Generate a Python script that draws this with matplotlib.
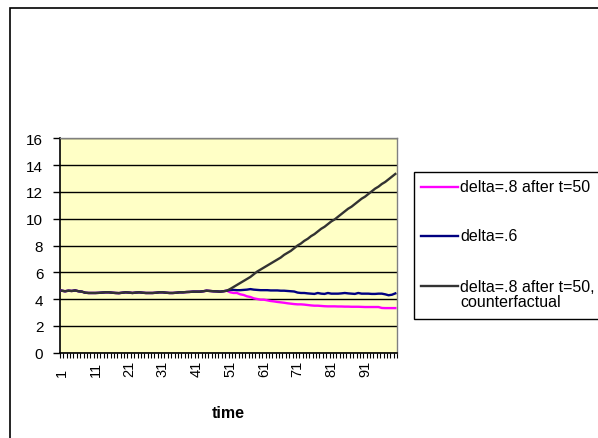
import matplotlib
matplotlib.use("Agg")
import matplotlib.pyplot as plt
from matplotlib.patches import Rectangle
from matplotlib.lines import Line2D
from matplotlib import transforms
import numpy as np

plt.rcParams['font.family'] = ['Liberation Sans', 'DejaVu Sans']

time = list(range(1, 101))

# shared path before the switch at t=50
pre_switch = [4.62, 4.58, 4.62, 4.60, 4.64, 4.58, 4.55, 4.47, 4.45, 4.45,
              4.45, 4.46, 4.48, 4.50, 4.50, 4.47, 4.45, 4.44, 4.47, 4.50,
              4.48, 4.45, 4.48, 4.50, 4.47, 4.45, 4.45, 4.45, 4.47, 4.50,
              4.50, 4.47, 4.45, 4.45, 4.47, 4.50, 4.50, 4.52, 4.53, 4.55,
              4.55, 4.55, 4.58, 4.62, 4.60, 4.58, 4.57, 4.55, 4.58, 4.62]

delta8_after50 = pre_switch + [
    4.50, 4.45, 4.45, 4.35, 4.30, 4.20, 4.15, 4.05, 4.00, 3.95,
    3.95, 3.90, 3.85, 3.82, 3.78, 3.75, 3.72, 3.68, 3.65, 3.62,
    3.60, 3.60, 3.58, 3.55, 3.52, 3.50, 3.50, 3.48, 3.46, 3.45,
    3.45, 3.45, 3.44, 3.44, 3.43, 3.43, 3.42, 3.42, 3.42, 3.41,
    3.40, 3.40, 3.40, 3.40, 3.40, 3.33, 3.32, 3.32, 3.32, 3.32]

delta6 = pre_switch + [
    4.68, 4.68, 4.66, 4.66, 4.68, 4.70, 4.74, 4.70, 4.68, 4.66,
    4.66, 4.66, 4.64, 4.64, 4.64, 4.62, 4.62, 4.60, 4.58, 4.56,
    4.48, 4.45, 4.45, 4.42, 4.40, 4.38, 4.45, 4.40, 4.38, 4.45,
    4.40, 4.40, 4.40, 4.42, 4.45, 4.42, 4.40, 4.38, 4.45, 4.40,
    4.40, 4.40, 4.38, 4.38, 4.40, 4.40, 4.35, 4.28, 4.32, 4.42]

delta8_counterfactual = pre_switch + [
    4.75, 4.90, 5.05, 5.20, 5.35, 5.50, 5.65, 5.85, 6.05, 6.20,
    6.35, 6.50, 6.65, 6.80, 6.95, 7.10, 7.30, 7.45, 7.60, 7.80,
    8.00, 8.15, 8.35, 8.50, 8.70, 8.85, 9.05, 9.25, 9.40, 9.60,
    9.80, 9.95, 10.15, 10.35, 10.55, 10.75, 10.90, 11.10, 11.30, 11.50,
    11.65, 11.85, 12.05, 12.25, 12.40, 12.60, 12.75, 12.95, 13.15, 13.35]

series_names = ["delta=.8 after t=50", "delta=.6",
                "delta=.8 after t=50,\ncounterfactual"]
series_colors = ["#FF00FF", "#000080", "#333333"]

yticks = [0, 2, 4, 6, 8, 10, 12, 14, 16]
xtick_labels = [1, 11, 21, 31, 41, 51, 61, 71, 81, 91]

W, H = 598, 439
fig = plt.figure(figsize=(W / 100, H / 100), dpi=100)
fig.patch.set_facecolor("white")

# outer chart border (continues past the right and bottom edges)
fig.add_artist(Rectangle((10 / W, -0.2), 1, 1.2 - 9 / H, transform=fig.transFigure,
                         fill=False, edgecolor="#000000", linewidth=1.2))

ax = fig.add_axes([60 / W, 1 - 353.5 / H, 337 / W, (353.5 - 139.5) / H])
ax.set_facecolor("#FFFFC6")

for vals, name, col in zip([delta8_after50, delta6, delta8_counterfactual],
                           series_names, series_colors):
    ax.plot(time, vals, color=col, linewidth=1.7, label=name, zorder=3)

ax.set_xlim(0.5, 100.5)
ax.set_ylim(0, 16)
ax.set_yticks(yticks)
ax.set_yticklabels([str(v) for v in yticks], fontsize=11)
ax.yaxis.grid(True, color="#000000", linewidth=1.0)
ax.set_axisbelow(True)

# category ticks between every time step, labels every tenth step
ax.set_xticks([])
ax.set_xticks(np.arange(0.5, 101, 1), minor=True)
ax.tick_params(axis="x", which="minor", length=3.5, width=0.8, color="#000000")
ax.tick_params(axis="y", length=5, width=1, color="#000000", pad=7)

lbl_tr = transforms.blended_transform_factory(ax.transData, fig.transFigure)
for t in xtick_labels:
    ax.text(t, 1 - 377 / H, str(t), rotation=90, ha="center", va="bottom",
            fontsize=10.5, transform=lbl_tr, clip_on=False)

for side in ["left", "bottom"]:
    ax.spines[side].set_color("#000000")
    ax.spines[side].set_linewidth(1.2)
for side in ["top", "right"]:
    ax.spines[side].set_color("#808080")
    ax.spines[side].set_linewidth(1.0)

fig.text(228.5 / W, 1 - 414 / H, "time", fontsize=11.5, fontweight="bold",
         ha="center", va="center")

# legend box running off the right edge
fig.add_artist(Rectangle((414 / W, 1 - 320 / H), 0.5, (320 - 173) / H,
                         transform=fig.transFigure, fill=True,
                         facecolor="white", edgecolor="#000000", linewidth=1.0))
entry_y = [188, 237, 287]
for y, name, col in zip(entry_y, series_names, series_colors):
    fy = 1 - y / H
    fig.add_artist(Line2D([421 / W, 458 / W], [fy, fy], transform=fig.transFigure,
                          color=col, linewidth=1.7))
    lines = name.split("\n")
    fig.text(460 / W, fy, lines[0], fontsize=11.5, va="center", ha="left")
    if len(lines) > 1:
        fig.text(460 / W, 1 - 303 / H, lines[1], fontsize=11.5, va="center", ha="left")

fig.savefig("out.png", dpi=100)
